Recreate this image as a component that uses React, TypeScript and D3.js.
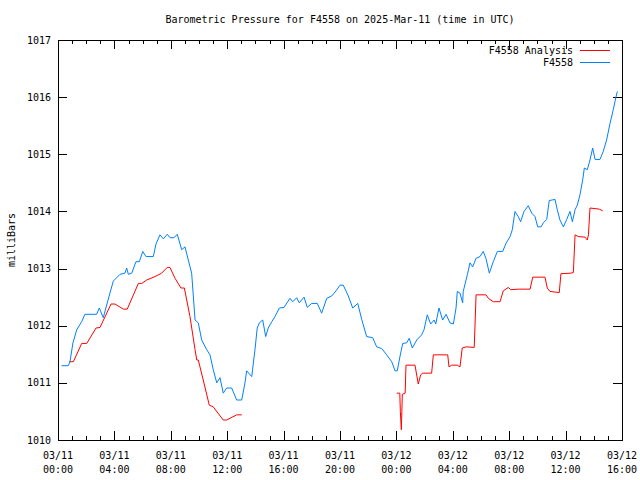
import React from "react";
import * as d3 from "d3";

// Hours since 2025-03-11 00:00 UTC
const stationHours = [
  0.25, 0.73, 0.85, 1.06, 1.33, 1.68, 1.91, 2.74, 2.93, 3.21, 3.55, 3.92, 4.4, 4.75, 4.87, 4.99, 5.23, 5.53, 5.77, 6.01,
  6.24, 6.76, 6.95, 7.23, 7.47, 7.75, 7.94, 8.23, 8.46, 8.77, 9.01, 9.24, 9.48, 9.72, 9.95, 10.19, 10.55, 10.78, 11.01, 11.26,
  11.49, 11.72, 11.96, 12.32, 12.67, 13.03, 13.26, 13.38, 13.74, 13.97, 14.13, 14.28, 14.52, 14.73, 14.91, 15.16, 15.39, 15.7, 16.03, 16.45,
  16.65, 16.93, 17.11, 17.45, 17.68, 17.99, 18.39, 18.7, 19.06, 19.41, 19.72, 20.0, 20.23, 20.59, 20.9, 21.26, 21.54, 21.89, 22.32, 22.6,
  22.96, 23.31, 23.67, 23.9, 24.06, 24.26, 24.45, 24.73, 24.91, 25.13, 25.44, 25.79, 25.96, 26.19, 26.43, 26.67, 26.79, 27.02, 27.28, 27.52,
  27.8, 28.04, 28.23, 28.32, 28.51, 28.7, 28.74, 29.03, 29.22, 29.41, 29.65, 29.93, 30.16, 30.35, 30.59, 30.87, 31.16, 31.54, 31.77, 32.06,
  32.22, 32.41, 32.64, 32.81, 33.05, 33.35, 33.6, 33.83, 34.02, 34.26, 34.42, 34.66, 34.84, 35.25, 35.41, 35.6, 35.84, 36.08, 36.31, 36.48,
  36.67, 36.83, 37.02, 37.21, 37.33, 37.54, 37.73, 37.92, 38.09, 38.44, 38.67, 38.91, 39.15, 39.38, 39.57, 39.67,
];
const stationPressure = [
  1011.3, 1011.3, 1011.37, 1011.7, 1011.93, 1012.07, 1012.2, 1012.2, 1012.31, 1012.14, 1012.45, 1012.78, 1012.9, 1012.92, 1013.01, 1012.9, 1012.92, 1013.12, 1013.12, 1013.3,
  1013.21, 1013.21, 1013.43, 1013.59, 1013.52, 1013.6, 1013.54, 1013.54, 1013.6, 1013.33, 1013.38, 1013.15, 1012.92, 1012.1, 1012.05, 1011.75, 1011.58, 1011.49, 1011.23, 1011.0,
  1011.09, 1010.82, 1010.91, 1010.91, 1010.7, 1010.7, 1011.0, 1011.21, 1011.11, 1011.58, 1011.96, 1012.05, 1012.1, 1011.81, 1011.96, 1012.07, 1012.16, 1012.31, 1012.32, 1012.48,
  1012.42, 1012.49, 1012.4, 1012.5, 1012.32, 1012.39, 1012.39, 1012.22, 1012.48, 1012.52, 1012.61, 1012.71, 1012.71, 1012.52, 1012.31, 1012.39, 1012.11, 1011.81, 1011.79, 1011.63,
  1011.6, 1011.49, 1011.37, 1011.21, 1011.21, 1011.47, 1011.69, 1011.7, 1011.78, 1011.61, 1011.75, 1011.84, 1011.93, 1012.19, 1012.03, 1012.1, 1012.03, 1012.31, 1012.1, 1012.2,
  1012.05, 1012.03, 1012.31, 1012.6, 1012.57, 1012.4, 1012.6, 1012.89, 1013.1, 1013.03, 1013.18, 1013.21, 1013.3, 1013.18, 1012.92, 1013.12, 1013.3, 1013.3, 1013.44, 1013.56,
  1013.68, 1014.0, 1013.91, 1013.82, 1014.0, 1014.1, 1013.97, 1013.91, 1013.73, 1013.73, 1013.8, 1013.86, 1014.19, 1014.21, 1014.03, 1013.85, 1013.73, 1013.86, 1014.0, 1013.82,
  1014.03, 1014.11, 1014.29, 1014.55, 1014.76, 1014.73, 1014.9, 1015.11, 1014.91, 1014.91, 1015.05, 1015.25, 1015.54, 1015.78, 1016.0, 1016.1,
];

// Analysis series, first segment (03/11) and second segment (03/12)
const analysisHoursA = [
  0.8, 1.09, 1.68, 2.04, 2.7, 2.98, 3.76, 4.04, 4.63, 4.91, 5.7, 5.94, 6.29, 6.88, 7.35, 7.75, 7.94, 8.3, 8.72, 8.96,
  9.36, 9.72, 9.84, 9.95, 10.3, 10.73, 11.01, 11.72, 11.96, 12.67, 13.03,
];
const analysisPressureA = [
  1011.37, 1011.37, 1011.69, 1011.69, 1011.96, 1011.97, 1012.38, 1012.38, 1012.29, 1012.29, 1012.74, 1012.74, 1012.8, 1012.86, 1012.92, 1013.02, 1013.02, 1012.83, 1012.66, 1012.66,
  1012.16, 1011.58, 1011.4, 1011.4, 1011.05, 1010.61, 1010.58, 1010.35, 1010.35, 1010.44, 1010.44,
];
const analysisHoursB = [
  24.02, 24.24, 24.28, 24.35, 24.42, 24.62, 24.68, 25.32, 25.55, 25.72, 25.87, 26.5, 26.62, 27.64, 27.73, 27.92, 28.32, 28.51, 28.67, 28.94,
  29.52, 29.65, 30.35, 30.52, 30.87, 31.35, 31.58, 31.94, 32.11, 32.65, 33.48, 33.67, 34.54, 34.7, 34.89, 35.55, 35.67, 36.38, 36.55, 36.67,
  36.9, 37.38, 37.54, 37.62, 37.73, 38.39, 38.63,
];
const analysisPressureB = [
  1010.82, 1010.82, 1010.5, 1010.18, 1010.8, 1010.82, 1011.31, 1011.31, 1010.98, 1011.14, 1011.17, 1011.17, 1011.49, 1011.49, 1011.28, 1011.31, 1011.31, 1011.28, 1011.61, 1011.63,
  1011.62, 1012.54, 1012.54, 1012.48, 1012.42, 1012.42, 1012.61, 1012.67, 1012.63, 1012.64, 1012.64, 1012.85, 1012.85, 1012.66, 1012.6, 1012.58, 1012.91, 1012.92, 1012.93, 1013.59,
  1013.56, 1013.55, 1013.5, 1013.59, 1014.06, 1014.04, 1014.01,
];

const yTicks = [1010, 1011, 1012, 1013, 1014, 1015, 1016, 1017];
const seriesNames = ["F4558 Analysis", "F4558"];
const seriesColors = ["#ff0000", "#0080ff"];
const titleText = "Barometric Pressure for F4558 on 2025-Mar-11 (time in UTC)";
const yLabel = "milliBars";

const W = 640;
const H = 480;
const L = 58;
const R = 622;
const T = 40;
const B = 440;
const FONT = "'DejaVu Sans Mono', 'Liberation Mono', monospace";

const start = Date.UTC(2025, 2, 11, 0, 0);
const end = Date.UTC(2025, 2, 12, 16, 0);
const toDate = (h: number) => new Date(start + h * 3600 * 1000);

export default function App() {
  const x = d3.scaleUtc().domain([new Date(start), new Date(end)]).range([L, R]);
  const y = d3.scaleLinear().domain([1010, 1017]).range([B, T]);

  const majorTicks = d3.utcHour.every(4)!.range(new Date(start), new Date(end + 1));
  const minorTicks = d3.utcHour.every(1)!.range(new Date(start), new Date(end + 1));
  const fmtDate = d3.utcFormat("%m/%d");
  const fmtTime = d3.utcFormat("%H:%M");

  const line = d3
    .line<[number, number]>()
    .x((d) => x(toDate(d[0])))
    .y((d) => y(d[1]));

  const station = stationHours.map((h, i) => [h, stationPressure[i]] as [number, number]);
  const segA = analysisHoursA.map((h, i) => [h, analysisPressureA[i]] as [number, number]);
  const segB = analysisHoursB.map((h, i) => [h, analysisPressureB[i]] as [number, number]);

  return (
    <svg width={W} height={H} style={{ position: "absolute", left: 0, top: 0, background: "#fff" }} fontFamily={FONT} fontSize={10}>
      <rect x={0} y={0} width={W} height={H} fill="#fff" />
      <text x={(L + R) / 2} y={23} textAnchor="middle" fill="#000">
        {titleText}
      </text>
      <text transform={`translate(15,${(T + B) / 2}) rotate(-90)`} textAnchor="middle" fill="#000">
        {yLabel}
      </text>

      {/* ticks */}
      <g stroke="#000" strokeWidth={1} shapeRendering="crispEdges">
        {minorTicks.map((d, i) => {
          const xx = Math.round(x(d)) + 0.5;
          const major = d.getUTCHours() % 4 === 0;
          const len = major ? 9 : 4;
          return (
            <g key={"xt" + i}>
              <line x1={xx} x2={xx} y1={B} y2={B - len} />
              <line x1={xx} x2={xx} y1={T} y2={T + len} />
            </g>
          );
        })}
        {yTicks.map((v) => {
          const yy = Math.round(y(v)) + 0.5;
          return (
            <g key={"yt" + v}>
              <line x1={L} x2={L + 9} y1={yy} y2={yy} />
              <line x1={R} x2={R - 9} y1={yy} y2={yy} />
            </g>
          );
        })}
      </g>

      {yTicks.map((v) => (
        <text key={"yl" + v} x={L - 7} y={y(v) + 3.5} textAnchor="end" fill="#000">
          {v}
        </text>
      ))}
      {majorTicks.map((d, i) => (
        <g key={"xl" + i}>
          <text x={x(d)} y={459} textAnchor="middle" fill="#000">
            {fmtDate(d)}
          </text>
          <text x={x(d)} y={473} textAnchor="middle" fill="#000">
            {fmtTime(d)}
          </text>
        </g>
      ))}

      {/* series */}
      <path d={line(segA) || ""} fill="none" stroke={seriesColors[0]} strokeWidth={1} />
      <path d={line(segB) || ""} fill="none" stroke={seriesColors[0]} strokeWidth={1} />
      <path d={line(station) || ""} fill="none" stroke={seriesColors[1]} strokeWidth={1} />

      {/* frame */}
      <rect x={L + 0.5} y={T + 0.5} width={R - L} height={B - T} fill="none" stroke="#000" strokeWidth={1} shapeRendering="crispEdges" />

      {/* legend */}
      {seriesNames.map((name, i) => (
        <g key={name}>
          <text x={573} y={53.5 + i * 12} textAnchor="end" fill="#000">
            {name}
          </text>
          <line x1={580} x2={610} y1={50.5 + i * 12} y2={50.5 + i * 12} stroke={seriesColors[i]} strokeWidth={1} />
        </g>
      ))}
    </svg>
  );
}
